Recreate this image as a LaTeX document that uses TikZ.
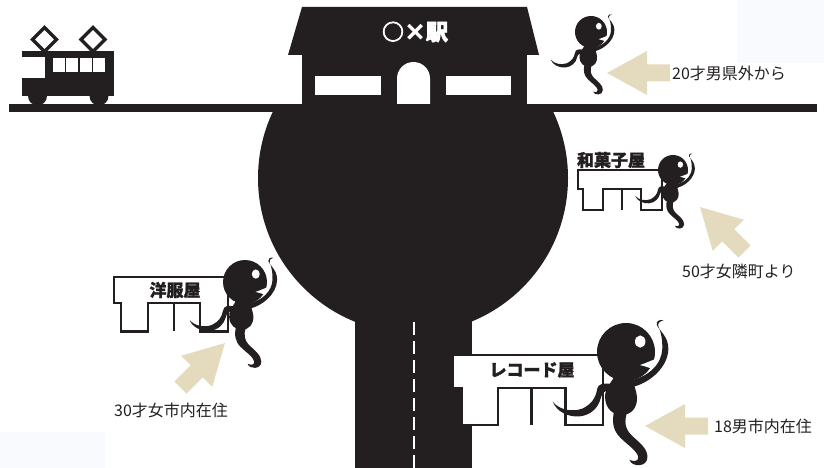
\documentclass[tikz,border=0pt]{standalone}
\usepackage{fontspec}
\newfontfamily\jp{Noto Sans CJK JP}
\newfontfamily\jpfat{Noto Sans CJK JP}[BoldFeatures={FakeBold=1.2}]
\newfontfamily\jpheavy{Noto Sans CJK JP}[BoldFeatures={FakeBold=3}]

\definecolor{ink}{RGB}{35,31,32}
\definecolor{sand}{RGB}{228,219,190}
\definecolor{haze}{RGB}{249,250,253}

\begin{document}
\begin{tikzpicture}[x=1pt,y=-1pt,
  shopline/.style={draw=ink, fill=white, line width=2.3pt},
  shoptext/.style={font=\jpfat\bfseries\fontsize{17}{17}\selectfont, text=ink, inner sep=0pt},
  guidetext/.style={font=\jp\fontsize{16}{16}\selectfont, text=ink, inner sep=0pt, anchor=west}]
\useasboundingbox (0,0) rectangle (824,468);

% shop front, sign board on top
\def\shop{(0,0) -- (84,0) -- (84,40) -- (63,40) -- (63,19) -- (25,19) -- (25,40) -- (5,40) -- (5,19) -- (0,19) -- cycle}
\def\shoppost{(44,19) -- (44,40)}

% the little guy, head radius 1
\def\ghosthead{(0,0) circle (1)}
\def\ghostgrin{(0.48,0.45) .. controls (0.7,0.38) and (0.85,0.3) .. (1.0,0.25) -- (1.0,0.62) .. controls (0.85,0.56) and (0.7,0.5) .. cycle}
\def\ghosteye{(0.49,-0.36) ellipse (0.18 and 0.21)}
\def\ghostbody{(-0.4,0.85) .. controls (-0.55,1.1) and (-0.75,1.3) .. (-0.72,1.6) .. controls (-0.7,1.95) and (-0.45,2.17) .. (-0.15,2.17) .. controls (0.2,2.17) and (0.4,1.9) .. (0.38,1.55) .. controls (0.37,1.3) and (0.2,1.1) .. (0.3,0.85) -- cycle}
\def\ghostreach{(-0.5,1.1) .. controls (-0.75,1.08) and (-0.95,1.05) .. (-1.0,1.3) .. controls (-1.05,1.6) and (-1.2,1.8) .. (-1.5,1.95) .. controls (-1.85,2.08) and (-2.3,2.0) .. (-2.52,1.72) .. controls (-2.4,2.05) and (-2.0,2.25) .. (-1.6,2.22) .. controls (-1.2,2.18) and (-0.95,1.9) .. (-0.88,1.62) .. controls (-0.83,1.42) and (-0.75,1.32) .. (-0.55,1.32) -- cycle}
\def\ghostwave{(0.05,1.24) .. controls (0.75,1.15) and (1.45,0.55) .. (1.46,-0.1) .. controls (1.47,-0.55) and (1.12,-0.75) .. (1.06,-0.95) .. controls (1.03,-1.06) and (1.15,-1.13) .. (1.3,-1.1) .. controls (1.14,-1.05) and (1.08,-0.98) .. (1.12,-0.88) .. controls (1.22,-0.65) and (1.26,-0.4) .. (1.25,-0.1) .. controls (1.23,0.4) and (0.8,0.88) .. (0.05,1.0) -- cycle}
\def\ghosttail{(-0.4,2.0) .. controls (-0.5,2.4) and (-0.45,2.7) .. (-0.2,2.95) .. controls (0.05,3.2) and (0.38,3.4) .. (0.42,3.62) .. controls (0.44,3.75) and (0.3,3.8) .. (0.12,3.72) .. controls (0.2,3.98) and (0.74,3.98) .. (0.74,3.62) .. controls (0.74,3.3) and (0.42,3.1) .. (0.17,2.85) .. controls (-0.02,2.65) and (-0.08,2.4) .. (0.05,2.05) -- cycle}

% fat arrow, tip at the origin
\def\guide{(0,0) -- (40,-22) -- (40,-8.5) -- (63,-8.5) -- (63,8.5) -- (40,8.5) -- (40,22) -- cycle}

\fill[haze] (737,0) rectangle (824,63);
\fill[haze] (0,432) rectangle (105,468);

% roundabout and road
\begin{scope}
  \clip (0,110) rectangle (824,468);
  \fill[ink] (413,178) circle (155);
\end{scope}
\fill[ink] (355,300) rectangle (472,468);
\draw[white, line width=2pt, dash pattern=on 13pt off 6pt] (414,322) -- (414,468);

% station
\fill[ink] (302,7) -- (527,7) -- (539,55) -- (288,55) -- cycle;
\fill[ink] (302,54) rectangle (527,108);
\fill[white] (315,76) rectangle (381,95);
\fill[white] (446,76) rectangle (511,95);
\fill[white] (397,104) -- (397,78.5) arc (180:360:16.5) -- (430,104) -- cycle;
\node[font=\jpheavy\bfseries\fontsize{22}{22}\selectfont, text=white, inner sep=0pt] (eki) at (415,32) {○×駅};

% rails
\fill[ink] (9,104) rectangle (817,112);

% tram
\fill[ink] (22,51) rectangle (114,96);
\fill[white] (21,57) rectangle (45,78);
\foreach \i in {0,...,3}
  \fill[white] (53+13.4*\i,58) rectangle +(12,14);
\fill[ink] (28,96) arc (180:0:9.5) -- cycle;
\fill[ink] (89.5,96) arc (180:0:9.5) -- cycle;
\foreach \px in {44.5,93}
  \draw[ink, line width=3.2pt] (\px,27.5) -- (\px+12,39.5) -- (\px,51.5) -- (\px-12,39.5) -- cycle;

% shops
\begin{scope}[shift={(578,170)}]
  \path[shopline] \shop; \draw[shopline] \shoppost;
\end{scope}
\begin{scope}[shift={(114,277)}, scale=1.36]
  \path[shopline] \shop; \draw[shopline] \shoppost;
\end{scope}
\begin{scope}[shift={(453,355)}, xscale=1.786, yscale=1.75]
  \path[shopline] \shop; \draw[shopline] \shoppost;
\end{scope}
\node[shoptext] (wagashi) at (611,160) {和菓子屋};
\node[shoptext] (yofuku) at (175,290) {洋服屋};
\node[shoptext] (record) at (532,370) {レコード屋};

% people
\foreach \gx/\gy/\gr in {591/32/16, 673/170/15, 245/282/22, 626/352/29} {
  \begin{scope}[shift={(\gx,\gy)}, scale=\gr]
    \fill[ink] \ghosthead;
    \fill[white] \ghostgrin;
    \fill[ink] \ghostbody;
    \fill[ink] \ghostreach;
    \fill[ink] \ghostwave;
    \fill[ink] \ghosttail;
    \fill[white] \ghosteye;
  \end{scope}
}

% where they come from
\foreach \tx/\ty/\rot in {607/73/0, 700/207/-45, 225/343/-135, 645/426/0}
  \fill[sand, shift={(\tx,\ty)}, rotate=\rot] \guide;

\node[guidetext] (fromout) at (672,73) {20才男県外から};
\node[guidetext] (fromnext) at (682,271) {50才女隣町より};
\node[guidetext] (fromcityA) at (114,410) {30才女市内在住};
\node[guidetext] (fromcityB) at (714,426) {18男市内在住};

\end{tikzpicture}
\end{document}
